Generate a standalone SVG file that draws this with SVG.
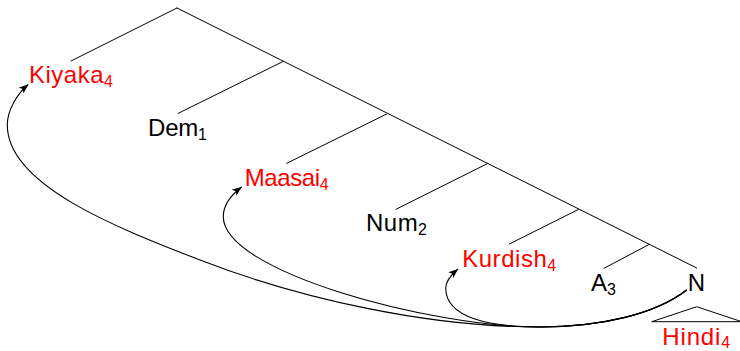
<svg xmlns="http://www.w3.org/2000/svg" width="740" height="351" viewBox="0 0 740 351">
  <defs>
    <style>
      .lbl { font-family: "Liberation Sans", Arial, sans-serif; font-size: 24px; text-anchor: middle; }
      .red { fill: #ff0000; }
      .blk { fill: #000000; }
      .sub { font-size: 16px; }
      .edge { stroke: #000; stroke-width: 1; fill: none; stroke-linecap: round; }
      .move { stroke: #000; stroke-width: 1.1; fill: none; }
    </style>
    <marker id="arr" viewBox="0 0 10 8" refX="10" refY="4" markerWidth="9.5" markerHeight="7.6" markerUnits="userSpaceOnUse" orient="auto">
      <path d="M0,0 L10,4 L0,8 L2.5,4 z" fill="#000"/>
    </marker>
  </defs>

  <g id="connectors">
    <g id="tree-edges">
      <line class="edge" x1="177" y1="8" x2="696.7" y2="268"/>
      <line class="edge" x1="177" y1="8" x2="71" y2="61"/>
      <line class="edge" x1="283" y1="61.5" x2="178.3" y2="113.3"/>
      <line class="edge" x1="386.7" y1="114" x2="286.7" y2="163.3"/>
      <line class="edge" x1="487.5" y1="163.6" x2="396" y2="209.3"/>
      <line class="edge" x1="578.3" y1="209.5" x2="509.3" y2="244"/>
      <line class="edge" x1="649" y1="244.5" x2="604" y2="268.3"/>
    </g>
    <g id="movement-arrows">
      <path class="move" marker-end="url(#arr)" d="M686.7,290 C655,314.4 600,327 540,327 C490,327 445.7,318 445.7,288 C445.7,281 451,275 458,269"/>
      <path class="move" marker-end="url(#arr)" d="M686.7,290 C655,314.4 600,327 540,327 C430,327 223.3,271.7 223.3,216.7 C223.3,205 231,195 241.7,187"/>
      <path class="move" marker-end="url(#arr)" d="M686.7,290 C655,314.4 600,327 540,327 C430,327 302.3,299.6 200,260 C116.3,227.6 7.3,185 7.3,125 C7.3,110 17,94 28.3,84.5"/>
    </g>
  </g>

  <g id="node-Kiyaka">
    <text class="lbl red" x="71" y="82.5" textLength="84" lengthAdjust="spacing">Kiyaka<tspan class="sub" dy="4">4</tspan></text>
  </g>
  <g id="node-Dem">
    <text class="lbl blk" x="177.5" y="135.5" textLength="59" lengthAdjust="spacing">Dem<tspan class="sub" dy="4">1</tspan></text>
  </g>
  <g id="node-Maasai">
    <text class="lbl red" x="286.7" y="185.5" textLength="84" lengthAdjust="spacing">Maasai<tspan class="sub" dy="4">4</tspan></text>
  </g>
  <g id="node-Num">
    <text class="lbl blk" x="396.5" y="231" textLength="61" lengthAdjust="spacing">Num<tspan class="sub" dy="4">2</tspan></text>
  </g>
  <g id="node-Kurdish">
    <text class="lbl red" x="509.2" y="266.5" textLength="94" lengthAdjust="spacing">Kurdish<tspan class="sub" dy="4">4</tspan></text>
  </g>
  <g id="node-A">
    <text class="lbl blk" x="603.5" y="290.5">A<tspan class="sub" dy="4">3</tspan></text>
  </g>
  <g id="node-N">
    <text class="lbl blk" x="696.3" y="290.5">N</text>
    <polygon points="696.7,306.7 651.7,321.7 741.7,321.7" fill="none" stroke="#000" stroke-width="1"/>
    <text class="lbl red" x="696.2" y="344.5" textLength="68" lengthAdjust="spacing">Hindi<tspan class="sub" dy="3.5">4</tspan></text>
  </g>
</svg>
